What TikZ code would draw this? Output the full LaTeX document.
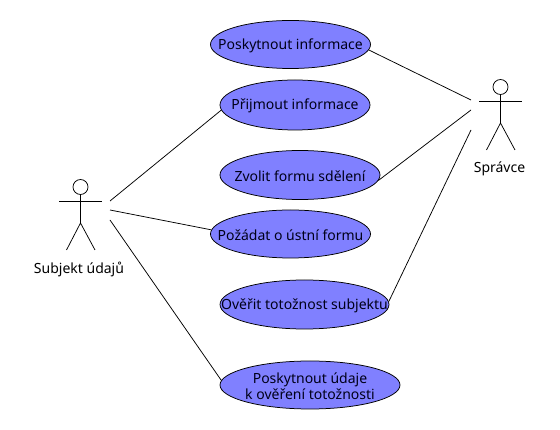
\documentclass[tikz,border=0pt]{standalone}
\usepackage{fontspec}
\setmainfont{Noto Sans}
\usetikzlibrary{shapes.geometric}
\definecolor{usecase}{HTML}{8080FF}
\tikzset{
  casetext/.style={align=center, inner sep=0pt, yshift=-1pt, text=black!90!blue, font=\fontsize{14}{16}\selectfont},
  usecase/.style={draw, ellipse, fill=usecase, inner sep=0pt},
  actorlabel/.style={font=\fontsize{14}{16}\selectfont},
  stickman/.pic={
    \node[draw, circle, minimum size=15pt, inner sep=0pt] (-head) at (0,0) {};
    \coordinate (-arml) at (-21.5,14);
    \coordinate (-armr) at (21.5,14);
    \coordinate (-hip) at (0,36);
    \coordinate (-legl) at (-14,63);
    \coordinate (-legr) at (14.5,63);
    \draw (-arml) -- (-armr);
    \draw (-head) -- (-hip);
    \draw (-legl) -- (-hip) -- (-legr);
  }
}
\begin{document}
\begin{tikzpicture}[x=1pt, y=-1pt, line width=0.75pt]
  \useasboundingbox (0,0) rectangle (560,430);
  % actors
  \pic (subj) at (80.5,187) {stickman};
  \pic (spr) at (500.5,87) {stickman};
  \node[actorlabel] (subjlabel) at (79,269) {Subjekt údajů};
  \node[actorlabel] (sprlabel) at (499.5,169) {Správce};
  % use cases
  \node[usecase, minimum width=160pt, minimum height=48pt, label={[casetext]center:Poskytnout informace}] (inform) at (290.5,44.5) {};
  \node[usecase, minimum width=150pt, minimum height=50pt, label={[casetext]center:Přijmout informace}] (prijem) at (295,105) {};
  \node[usecase, minimum width=160pt, minimum height=49pt, label={[casetext]center:Zvolit formu sdělení}] (forma) at (300,175) {};
  \node[usecase, minimum width=160pt, minimum height=48pt, label={[casetext]center:Požádat o ústní formu}] (zadost) at (290.5,234) {};
  \node[usecase, minimum width=169pt, minimum height=49pt, label={[casetext]center:Ověřit totožnost subjektu}] (overit) at (304.5,304.5) {};
  \node[usecase, minimum width=180pt, minimum height=48pt, label={[casetext]center:Poskytnout údaje\\k ověření totožnosti}] (udaje) at (310,385) {};
  % free ends beside the actors
  \coordinate (subja) at (110,201);
  \coordinate (subjb) at (110,210);
  \coordinate (subjc) at (110,220);
  \coordinate (spra) at (471,100);
  \coordinate (sprb) at (471,110);
  \coordinate (sprc) at (471,130);
  % connectors
  \draw (subja) -- (prijem.184);
  \draw (subjb) -- (zadost.177);
  \draw (subjc) -- (udaje.177);
  \draw (inform.-4) -- (spra);
  \draw (forma.-4) -- (sprb);
  \draw (overit.2) -- (sprc);
\end{tikzpicture}
\end{document}
